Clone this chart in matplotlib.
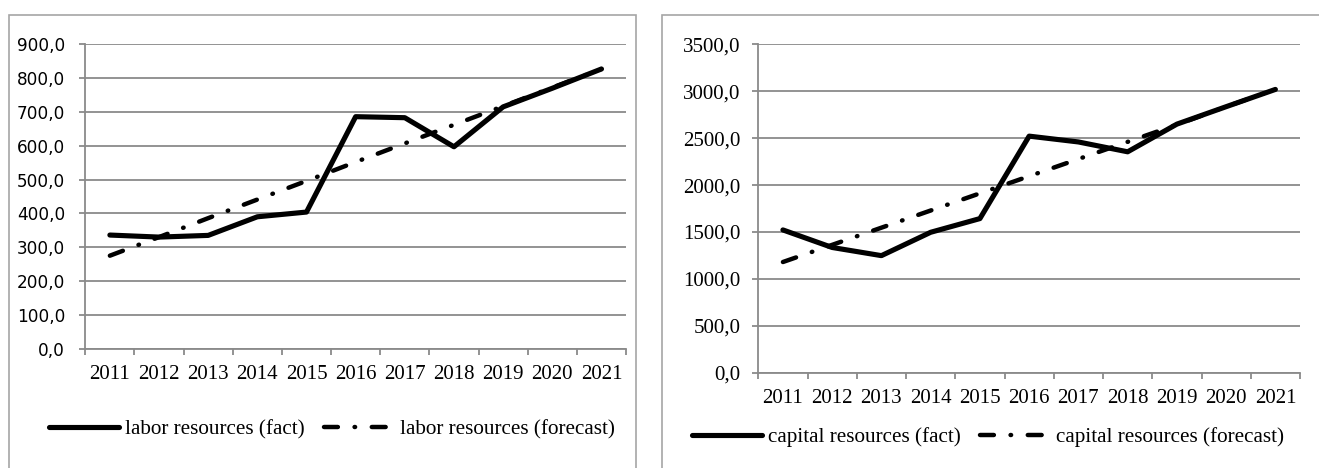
import matplotlib
matplotlib.use('Agg')
import matplotlib.pyplot as plt
from matplotlib.patches import Rectangle

plt.rcParams['lines.scale_dashes'] = False

# data
years = ['2011', '2012', '2013', '2014', '2015', '2016',
         '2017', '2018', '2019', '2020', '2021']
labor_fact = [336, 330, 335, 390, 404, 686, 683, 597, 715, 770, 827]
labor_forecast = [275, 330, 386, 441, 496, 552, 607, 662, 717, 772, 827]
capital_fact = [1522, 1335, 1248, 1497, 1643, 2522, 2460, 2355, 2650, 2836, 3020]
capital_forecast = [1180, 1363, 1546, 1729, 1912, 2095, 2278, 2461, 2644, 2836, 3020]

W, H = 1319, 468
grey = '#8a8a8a'
serif = 'Liberation Serif'
dashdot = (0, (10.0, 12.0, 0.4, 12.0))

fig = plt.figure(figsize=(W / 100, H / 100), dpi=100)

# panel frames (Excel chart areas)
fig.add_artist(Rectangle((9 / W, -0.2), (635.7 - 9) / W, 1.2 - 15 / H,
                         transform=fig.transFigure, fill=False,
                         edgecolor='#a6a6a6', linewidth=1.2))
fig.add_artist(Rectangle((661.7 / W, -0.2), 1.0, 1.2 - 15 / H,
                         transform=fig.transFigure, fill=False,
                         edgecolor='#a6a6a6', linewidth=1.2))


def px_axes(x0, x1, y_top, y_bottom):
    return fig.add_axes([x0 / W, (H - y_bottom) / H, (x1 - x0) / W, (y_bottom - y_top) / H])


def style(ax, ymax, step, tick_font, tick_size, ypad):
    x = range(len(years))
    ax.set_xlim(-0.5, len(years) - 0.5)
    ax.set_ylim(0, ymax)
    ax.set_yticks(range(0, ymax + 1, step))
    ax.set_yticklabels(['{:.1f}'.format(v).replace('.', ',') for v in range(0, ymax + 1, step)],
                       family=tick_font, fontsize=tick_size)
    ax.set_xticks(list(x))
    ax.set_xticklabels(years, family=serif, fontsize=15)
    ax.set_xticks([i - 0.5 for i in range(len(years) + 1)], minor=True)
    ax.tick_params(axis='x', which='major', length=0, pad=12)
    ax.tick_params(axis='x', which='minor', length=4, width=1.3, color=grey)
    ax.tick_params(axis='y', length=4, width=1.3, color=grey, pad=ypad)
    ax.grid(axis='y', color=grey, linewidth=1.3)
    ax.set_axisbelow(True)
    for s in ['top', 'right']:
        ax.spines[s].set_visible(False)
    for s in ['left', 'bottom']:
        ax.spines[s].set_color(grey)
        ax.spines[s].set_linewidth(1.3)


# labor resources
ax1 = px_axes(85.3, 626, 44.3, 348.7)
ax1.plot(range(len(years)), labor_fact, color='black', lw=3.7,
         solid_capstyle='round', solid_joinstyle='round', label='labor resources (fact)')
ax1.plot(range(len(years)), labor_forecast, color='black', lw=3.2, linestyle=dashdot,
         dash_capstyle='round', label='labor resources (forecast)')
style(ax1, 900, 100, 'DejaVu Sans', 12.2, 10.5)
ax1.legend(loc='center', bbox_to_anchor=(332 / W, (H - 429.5) / H),
           bbox_transform=fig.transFigure, ncol=2, frameon=False,
           prop={'family': serif, 'size': 15.2}, handlelength=3.3,
           handletextpad=0.3, columnspacing=0.9, borderaxespad=0)

# capital resources
ax2 = px_axes(758.3, 1300, 44.4, 372.7)
ax2.plot(range(len(years)), capital_fact, color='black', lw=3.7,
         solid_capstyle='round', solid_joinstyle='round', label='capital resources (fact)')
ax2.plot(range(len(years)), capital_forecast, color='black', lw=3.2, linestyle=dashdot,
         dash_capstyle='round', label='capital resources (forecast)')
style(ax2, 3500, 500, serif, 15, 9)
ax2.legend(loc='center', bbox_to_anchor=(988 / W, (H - 437.5) / H),
           bbox_transform=fig.transFigure, ncol=2, frameon=False,
           prop={'family': serif, 'size': 15.2}, handlelength=3.3,
           handletextpad=0.3, columnspacing=0.9, borderaxespad=0)

plt.savefig('out.png', dpi=100)
